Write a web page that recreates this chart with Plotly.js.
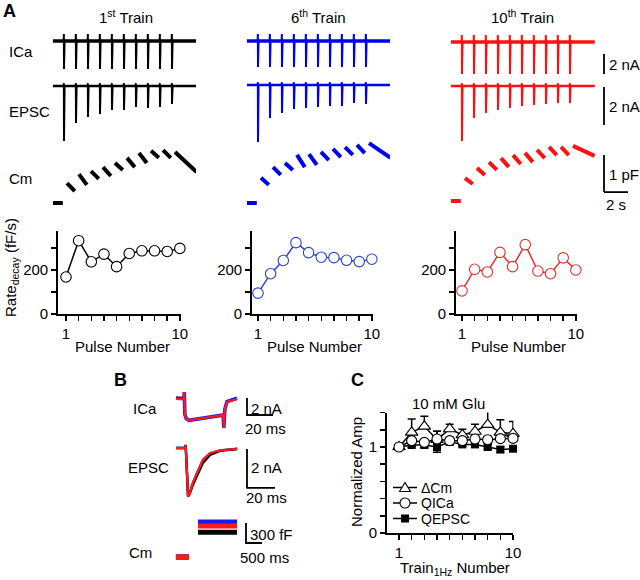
<!DOCTYPE html>
<html><head><meta charset="utf-8">
<script src="https://cdn.plot.ly/plotly-3.0.1.min.js"></script>
<style>html,body{margin:0;padding:0;background:#fff}</style>
</head><body><div id="chart" style="width:640px;height:580px"></div>
<script>
// ================= DATA =================
// Panel A: 1 Hz trains of 10 pulses
const pulseNumber = [1, 2, 3, 4, 5, 6, 7, 8, 9, 10];
const pulseTime = [1, 2, 3, 4, 5, 6, 7, 8, 9, 10];          // s
const recordWindow = [0.08, 12.05];                           // s
const icaArtifact = 0.7;                                      // nA, capacitive transient
const epscArtifact = 0.15;                                    // nA
// ICa peak amplitudes (nA)
const icaAmp1 = [2.8, 2.8, 2.8, 2.8, 2.8, 2.8, 2.8, 2.8, 2.8, 2.8];
const icaAmp6 = [2.6, 2.6, 2.6, 2.6, 2.6, 2.6, 2.6, 2.6, 2.6, 2.6];
const icaAmp10 = [3.2, 3.2, 3.2, 3.2, 3.2, 3.2, 3.2, 3.2, 3.2, 3.2];
// EPSC peak amplitudes (nA)
const epscAmp1 = [2.9, 1.95, 1.63, 1.47, 1.26, 1.26, 1.1, 1.16, 1.1, 0.95];
const epscAmp6 = [3.0, 1.74, 1.47, 1.26, 1.21, 1.16, 1.1, 1.1, 0.95, 1.0];
const epscAmp10 = [2.9, 1.68, 1.42, 1.26, 1.16, 1.05, 1.0, 0.95, 0.9, 0.9];
// Cm after each pulse (pF above resting): value just after pulse, value before next pulse
const cmOn1 = [0.54, 0.78, 0.86, 0.97, 1.08, 1.22, 1.35, 1.41, 1.43, 1.38];
const cmOff1 = [0.32, 0.49, 0.65, 0.73, 0.89, 0.97, 1.08, 1.22, 1.22, 0.84];
const cmOn6 = [0.68, 0.97, 1.08, 1.30, 1.32, 1.38, 1.46, 1.51, 1.57, 1.62];
const cmOff6 = [0.49, 0.76, 0.89, 0.97, 1.03, 1.16, 1.24, 1.30, 1.35, 1.22];
const cmOn10 = [0.62, 0.89, 1.05, 1.16, 1.24, 1.30, 1.38, 1.46, 1.46, 1.49];
const cmOff10 = [0.46, 0.70, 0.84, 0.92, 1.00, 1.05, 1.16, 1.24, 1.24, 1.22];
const cmGapAfter = 0.25, cmGapBefore = 0.1;                    // s, blanked around pulses
// Rate of decay (fF/s)
const rate1 = [168, 333, 237, 272, 215, 275, 287, 287, 284, 298];
const rate6 = [95, 183, 243, 324, 279, 258, 256, 244, 238, 249];
const rate10 = [105, 203, 191, 280, 215, 315, 195, 183, 255, 200];
const rateMajorTicks = [0, 200];
const rateMinorTicks = [100, 300];
const pulseMajorTicks = [1, 10];
const pulseMinorTicks = [2, 3, 4, 5, 6, 7, 8, 9];

// Panel B: averaged single responses (1st black, 6th blue, 10th red)
const bIcaT = [-6.4, -2.5, -0.3, 0, 0.4, 1.5, 3.6, 29.5, 29.9, 30.4, 31.2, 32.8, 40.5];       // ms
const bIcaBlack = [0, 0, 0, 0.8, -1.8, -2.3, -2.5, -1.9, -1.9, -3.4, -1.2, -0.35, 0];
const bIcaBlue  = [0.1, 0.1, 0.05, 0.8, -1.8, -2.3, -2.5, -1.9, -1.9, -3.4, -1.2, -0.3, 0.1];
const bIcaRed   = [0, 0, 0, 0.8, -1.8, -2.3, -2.5, -1.9, -1.9, -3.4, -1.2, -0.35, 0];
const bEpscT = [-5.7, 0.5, 1.2, 2.0, 2.9, 4.0, 6.0, 9.3, 13.6, 18.6, 25.7, 38];                  // ms
const bEpscBlack = [0, 0, 0.15, -0.8, -2.45, -2.35, -1.95, -1.42, -0.75, -0.35, -0.15, -0.05];
const bEpscBlue  = [0, 0, 0.15, -0.8, -2.5, -2.35, -1.85, -1.28, -0.6, -0.27, -0.12, -0.04];
const bEpscRed   = [0, 0, 0.15, -0.8, -2.5, -2.35, -1.85, -1.28, -0.6, -0.27, -0.12, -0.04];
const bCmPreT = [-0.44, -0.03];   // s
const bCmPostT = [0.25, 1.47];    // s
const bCmJump = {black: 0.37, blue: 0.525, red: 0.465};   // pF

// Panel C: normalized amplitude across 1 Hz trains
const trainNumber = [1, 2, 3, 4, 5, 6, 7, 8, 9, 10];
const dCm      = [1.0, 1.17, 1.24, 1.085, 1.21, 1.14, 1.18, 1.26, 1.17, 1.155];
const dCmErr   = [0, 0.155, 0.116, 0.097, 0.054, 0.066, 0.085, 0.155, 0.147, 0.14];
const qICa     = [1.0, 1.074, 1.054, 1.093, 1.074, 1.074, 1.093, 1.085, 1.097, 1.10];
const qICaErr  = [0, 0.03, 0.03, 0.09, 0.04, 0.03, 0.03, 0.04, 0.03, 0.03];
const qEPSC    = [1.0, 1.023, 1.023, 1.0, 1.06, 1.03, 1.03, 1.0, 0.97, 0.98];
const qEPSCErr = [0, 0.02, 0.03, 0.06, 0.03, 0.02, 0.02, 0.03, 0.03, 0.02];
const cMajorTicks = [0, 1];
const cMinorTicks = [0.2, 0.4, 0.6, 0.8, 1.2, 1.4];

// ================= BUILD =================
const W = 640, H = 580;
const FONT = 'Liberation Sans, Arial, Helvetica, sans-serif';
const px = v => v / W;
const py = v => 1 - v / H;
const dX = (a, b) => [a / W, b / W];
const dY = (top, bottom) => [1 - bottom / H, 1 - top / H];
const axId = (p, n) => n === 1 ? p : p + n;
const axKey = id => (id[0] === 'x' ? 'xaxis' : 'yaxis') + id.slice(1);

const layout = {
  width: W, height: H, margin: {l: 0, r: 0, t: 0, b: 0, pad: 0},
  paper_bgcolor: '#ffffff', plot_bgcolor: 'rgba(0,0,0,0)', showlegend: false,
  font: {family: FONT, size: 15, color: '#000'},
  shapes: [], annotations: []
};
const traces = [];

function hidden(domain, range, anchor) {
  return {domain, range, anchor, visible: false, fixedrange: true, showgrid: false, zeroline: false};
}
function vr(band, base, scale) { return [-(band[1] - base) / scale, (base - band[0]) / scale]; }
function visAxis(domain, range, anchor, major, minor) {
  return {
    domain, range, anchor, tickvals: major, ticktext: major.map(String),
    ticks: 'outside', ticklen: 5, tickwidth: 1.5, tickcolor: '#000',
    minor: {tickvals: minor, ticks: 'outside', ticklen: 5, tickwidth: 1.5, tickcolor: '#000', showgrid: false},
    showline: true, linewidth: 1.8, linecolor: '#000', showgrid: false, zeroline: false,
    tickfont: {size: 15, family: FONT}, fixedrange: true
  };
}

function spikes(times, amps, up, win) {
  const x = [win[0]], y = [0];
  times.forEach((t, k) => {
    x.push(t - 0.03, t - 0.012, t, t + 0.02, t + 0.05);
    y.push(0, up, -amps[k], 0, 0);
  });
  x.push(win[1]); y.push(0);
  return {x, y};
}
function cmSegments(times, on, off, win) {
  const x = [win[0] , times[0] - cmGapBefore, null], y = [0, 0, null];
  times.forEach((t, k) => {
    const tEnd = k < times.length - 1 ? times[k + 1] - cmGapBefore : win[1];
    x.push(t + cmGapAfter, tEnd, null);
    y.push(on[k], off[k], null);
  });
  return {x, y};
}

const PX_S = 12, PX_NA_ICA = 10, PX_NA_EPSC = 19, PX_PF = 37;
const ICA_BAND = [26, 84], EPSC_BAND = [76, 150], CM_BAND = [136, 214];
const columns = [
  {ica: icaAmp1, epsc: epscAmp1, on: cmOn1, off: cmOff1, rate: rate1, col: '#000000', rcol: '#000000',
   t0: 52, right: 196, icaBase: 41, epscBase: 86, cmBase: 203, axLeft: 58, x1: 66},
  {ica: icaAmp6, epsc: epscAmp6, on: cmOn6, off: cmOff6, rate: rate6, col: '#0000ee', rcol: '#2b44c9',
   t0: 246, right: 390, icaBase: 41, epscBase: 85, cmBase: 203, axLeft: 252, x1: 258},
  {ica: icaAmp10, epsc: epscAmp10, on: cmOn10, off: cmOff10, rate: rate10, col: '#ff1010', rcol: '#e2302f',
   t0: 450, right: 640, icaBase: 42, epscBase: 86, cmBase: 201, axLeft: 456, x1: 462}
];

columns.forEach((c, i) => {
  const xid = axId('x', i + 1);
  const yI = axId('y', 3 * i + 1), yE = axId('y', 3 * i + 2), yC = axId('y', 3 * i + 3);
  layout[axKey(xid)] = hidden(dX(c.t0, c.right), [0, (c.right - c.t0) / PX_S], yC);
  layout[axKey(yI)] = hidden(dY(ICA_BAND[0], ICA_BAND[1]), vr(ICA_BAND, c.icaBase, PX_NA_ICA), xid);
  layout[axKey(yE)] = hidden(dY(EPSC_BAND[0], EPSC_BAND[1]), vr(EPSC_BAND, c.epscBase, PX_NA_EPSC), xid);
  layout[axKey(yC)] = hidden(dY(CM_BAND[0], CM_BAND[1]), vr(CM_BAND, c.cmBase, PX_PF), xid);

  traces.push({x: recordWindow, y: [0, 0], xaxis: xid, yaxis: yI, mode: 'lines', line: {color: c.col, width: 3.5}, hoverinfo: 'skip'});
  const si = spikes(pulseTime, c.ica, icaArtifact, recordWindow);
  traces.push({x: si.x, y: si.y, xaxis: xid, yaxis: yI, mode: 'lines', line: {color: c.col, width: 2}, hoverinfo: 'skip'});
  traces.push({x: recordWindow, y: [0, 0], xaxis: xid, yaxis: yE, mode: 'lines', line: {color: c.col, width: 2.5}, hoverinfo: 'skip'});
  const se = spikes(pulseTime, c.epsc, epscArtifact, recordWindow);
  traces.push({x: se.x, y: se.y, xaxis: xid, yaxis: yE, mode: 'lines', line: {color: c.col, width: 2}, hoverinfo: 'skip'});
  const sc = cmSegments(pulseTime, c.on, c.off, recordWindow);
  traces.push({x: sc.x, y: sc.y, xaxis: xid, yaxis: yC, mode: 'lines', connectgaps: false, line: {color: c.col, width: 4}, hoverinfo: 'skip'});

  // Rate plot
  const rx = axId('x', 4 + i), ry = axId('y', 10 + i);
  const PXU = 12.65;
  const left = 1 - (c.x1 - c.axLeft) / PXU;
  layout[axKey(rx)] = visAxis(dX(c.axLeft, c.x1 + 9.1 * PXU), [left, 10.1], ry, pulseMajorTicks, pulseMinorTicks);
  layout[axKey(ry)] = visAxis(dY(231, 314), [0, 377], rx, rateMajorTicks, rateMinorTicks);
  traces.push({x: pulseNumber, y: c.rate, xaxis: rx, yaxis: ry, mode: 'lines+markers', cliponaxis: false,
    line: {color: c.rcol, width: 1.5},
    marker: {symbol: 'circle', size: 10.5, color: '#ffffff', line: {color: c.rcol, width: 1.1}}, hoverinfo: 'skip'});
  layout.annotations.push({text: 'Pulse Number', xref: 'paper', yref: 'paper', x: px(c.x1 + 4.5 * PXU), y: py(346),
    showarrow: false, xanchor: 'center', yanchor: 'middle', font: {size: 15}});
});

// Scale bars, panel A (drawn on 10th-train axes)
const sbA = {x: 'x3', ica: 'y7', epsc: 'y8', cm: 'y9'};
const tBar = (604 - 450) / PX_S;
layout.shapes.push(
  {type: 'line', xref: sbA.x, yref: sbA.ica, x0: tBar, x1: tBar, y0: -1.2, y1: -3.2, line: {color: '#000', width: 1.8}},
  {type: 'line', xref: sbA.x, yref: sbA.epsc, x0: tBar, x1: tBar, y0: -0.05, y1: -2.05, line: {color: '#000', width: 1.8}},
  {type: 'line', xref: sbA.x, yref: sbA.cm, x0: tBar, x1: tBar, y0: 1.24, y1: 0.24, line: {color: '#000', width: 1.8}},
  {type: 'line', xref: sbA.x, yref: sbA.cm, x0: tBar, x1: tBar + 2, y0: 0.24, y1: 0.24, line: {color: '#000', width: 1.8}}
);

// ---------- Panel B ----------
const B_X = [170, 300];
const bIcaScale = {t0: 184.3, pxms: 1.3, band: [384, 440], base: 399, pxna: 8.5};
layout.xaxis7 = hidden(dX(B_X[0], B_X[1]), [(B_X[0] - bIcaScale.t0) / bIcaScale.pxms, (B_X[1] - bIcaScale.t0) / bIcaScale.pxms], 'y13');
layout.yaxis13 = hidden(dY(bIcaScale.band[0], bIcaScale.band[1]), vr(bIcaScale.band, bIcaScale.base, bIcaScale.pxna), 'x7');
[[bIcaBlack, '#000000', 2.2], [bIcaBlue, '#1a1ae6', 3.6], [bIcaRed, '#ff1a1a', 2.2]].forEach(([v, col, w]) => {
  traces.push({x: bIcaT, y: v, xaxis: 'x7', yaxis: 'y13', mode: 'lines', line: {color: col, width: w}, hoverinfo: 'skip'});
});
const bEpscScale = {t0: 184, pxms: 1.4, band: [438, 506], base: 448, pxna: 19.5};
layout.xaxis8 = hidden(dX(B_X[0], B_X[1]), [(B_X[0] - bEpscScale.t0) / bEpscScale.pxms, (B_X[1] - bEpscScale.t0) / bEpscScale.pxms], 'y14');
layout.yaxis14 = hidden(dY(bEpscScale.band[0], bEpscScale.band[1]), vr(bEpscScale.band, bEpscScale.base, bEpscScale.pxna), 'x8');
[[bEpscBlue, '#1a1ae6', 2.4], [bEpscBlack, '#000000', 2.4], [bEpscRed, '#ff1a1a', 2.2]].forEach(([v, col, w]) => {
  traces.push({x: bEpscT, y: v, xaxis: 'x8', yaxis: 'y14', mode: 'lines', line: {color: col, width: w}, hoverinfo: 'skip'});
});
const bCmScale = {t0: 190, pxs: 32, band: [508, 566], base: 557, pxpf: 66.7};
layout.xaxis9 = hidden(dX(B_X[0], B_X[1]), [(B_X[0] - bCmScale.t0) / bCmScale.pxs, (B_X[1] - bCmScale.t0) / bCmScale.pxs], 'y15');
layout.yaxis15 = hidden(dY(bCmScale.band[0], bCmScale.band[1]), vr(bCmScale.band, bCmScale.base, bCmScale.pxpf), 'x9');
[['black', '#000000'], ['blue', '#1a1ae6'], ['red', '#ff1a1a']].forEach(([k, col]) => {
  traces.push({x: bCmPreT, y: [0, 0], xaxis: 'x9', yaxis: 'y15', mode: 'lines', line: {color: col, width: 5}, hoverinfo: 'skip'});
  traces.push({x: bCmPostT, y: [bCmJump[k], bCmJump[k]], xaxis: 'x9', yaxis: 'y15', mode: 'lines', line: {color: col, width: 5}, hoverinfo: 'skip'});
});
const bT1 = (247 - bIcaScale.t0) / bIcaScale.pxms;
const bT2 = (247 - bEpscScale.t0) / bEpscScale.pxms;
const bT3 = (246 - bCmScale.t0) / bCmScale.pxs;
layout.shapes.push(
  {type: 'path', xref: 'x7', yref: 'y13', path: `M${bT1},0.12 L${bT1},-1.88 L${bT1 + 20},-1.88`, line: {color: '#000', width: 1.8}},
  {type: 'path', xref: 'x8', yref: 'y14', path: `M${bT2},-0.05 L${bT2},-2.05 L${bT2 + 20},-2.05`, line: {color: '#000', width: 1.8}},
  {type: 'path', xref: 'x9', yref: 'y15', path: `M${bT3},0.51 L${bT3},0.21 L${bT3 + 0.5},0.21`, line: {color: '#000', width: 1.8}}
);

// ---------- Panel C ----------
const CPX = 12.67;
layout.xaxis10 = visAxis(dX(387, 399 + 9.03 * CPX), [1 - 12 / CPX, 10.03], 'y16', pulseMajorTicks, pulseMinorTicks);
layout.yaxis16 = visAxis(dY(412.5, 533), [0, 1.401], 'x10', cMajorTicks, cMinorTicks);
traces.push({x: trainNumber, y: qEPSC, xaxis: 'x10', yaxis: 'y16', mode: 'lines+markers', cliponaxis: false,
  line: {color: '#000', width: 1.5}, marker: {symbol: 'square', size: 8, color: '#000'},
  error_y: {type: 'data', array: qEPSCErr, symmetric: true, color: '#000', thickness: 1.5, width: 4}, hoverinfo: 'skip'});
traces.push({x: trainNumber, y: dCm, xaxis: 'x10', yaxis: 'y16', mode: 'lines+markers', cliponaxis: false,
  line: {color: '#000', width: 1.5}, marker: {symbol: 'triangle-up', size: 11, color: '#fff', line: {color: '#000', width: 1.1}},
  error_y: {type: 'data', array: dCmErr, arrayminus: dCm.map(() => 0), symmetric: false, color: '#000', thickness: 1.5, width: 4}, hoverinfo: 'skip'});
traces.push({x: trainNumber, y: qICa, xaxis: 'x10', yaxis: 'y16', mode: 'lines+markers', cliponaxis: false,
  line: {color: '#000', width: 1.5}, marker: {symbol: 'circle', size: 10, color: '#fff', line: {color: '#000', width: 1.1}},
  error_y: {type: 'data', array: qICaErr, symmetric: true, color: '#000', thickness: 1.5, width: 4}, hoverinfo: 'skip'});

// Legend for C (drawn)
const legRows = [487.5, 503, 518.5];
legRows.forEach(yy => layout.shapes.push({type: 'line', xref: 'paper', yref: 'paper', x0: px(393), x1: px(417), y0: py(yy), y1: py(yy), line: {color: '#000', width: 1.5}}));
layout.shapes.push(
  {type: 'path', xref: 'paper', yref: 'paper', path: `M${px(399.5)},${py(491.5)} L${px(410.5)},${py(491.5)} L${px(405)},${py(482.5)} Z`, fillcolor: '#fff', line: {color: '#000', width: 1.1}},
  {type: 'circle', xref: 'paper', yref: 'paper', x0: px(400), x1: px(410), y0: py(498), y1: py(508), fillcolor: '#fff', line: {color: '#000', width: 1.1}},
  {type: 'rect', xref: 'paper', yref: 'paper', x0: px(401), x1: px(409), y0: py(514.5), y1: py(522.5), fillcolor: '#000', line: {color: '#000', width: 0}}
);

// ---------- Text ----------
function txt(text, x, y, opts = {}) {
  layout.annotations.push(Object.assign({text, xref: 'paper', yref: 'paper', x: px(x), y: py(y), showarrow: false,
    xanchor: 'left', yanchor: 'middle', font: {size: 15}}, opts));
}
txt('<b>A</b>', 1, 11, {font: {size: 18}});
txt('1<sup>st</sup> Train', 126, 16, {xanchor: 'center'});
txt('6<sup>th</sup> Train', 318, 16, {xanchor: 'center'});
txt('10<sup>th</sup> Train', 522, 16, {xanchor: 'center'});
txt('ICa', 7, 51);
txt('EPSC', 7, 112);
txt('Cm', 7, 178);
txt('2 nA', 607, 64);
txt('2 nA', 607, 107);
txt('1 pF', 607, 174);
txt('2 s', 616, 204, {xanchor: 'center'});
txt('Rate<sub>decay</sub> (fF/s)', 11, 268, {xanchor: 'center', textangle: -90});
txt('<b>B</b>', 112, 380, {font: {size: 18}});
txt('ICa', 131, 408);
txt('EPSC', 126, 468);
txt('Cm', 127, 552);
txt('2 nA', 249, 408);
txt('20 ms', 265, 428, {xanchor: 'center'});
txt('2 nA', 249, 468);
txt('20 ms', 266, 497, {xanchor: 'center'});
txt('300 fF', 248, 534);
txt('500 ms', 264, 557, {xanchor: 'center'});
txt('<b>C</b>', 349, 380, {font: {size: 18}});
txt('10 mM Glu', 448, 403, {xanchor: 'center'});
txt('Normalized Amp', 356, 472, {xanchor: 'center', textangle: -90});
txt('Train<sub>1Hz</sub> Number', 455, 568, {xanchor: 'center'});
const legFont = {size: 14};
txt('ΔCm', 420, legRows[0], {font: legFont, height: 15.5, borderpad: 0});
txt('QICa', 420, legRows[1], {font: legFont, height: 15.5, borderpad: 0});
txt('QEPSC', 420, legRows[2], {font: legFont, height: 15.5, borderpad: 0});

Plotly.newPlot('chart', traces, layout, {displayModeBar: false, staticPlot: true});
</script>
</body></html>
